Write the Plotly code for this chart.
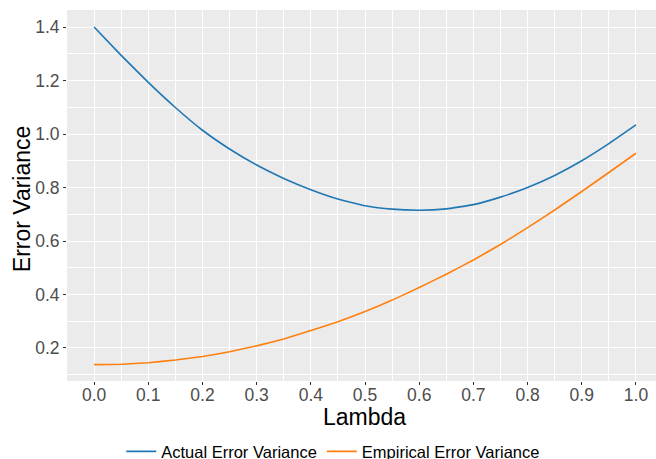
import plotly.graph_objects as go

# Shrinkage parameter grid
lambda_vals = [0.00, 0.05, 0.10, 0.15, 0.20, 0.25, 0.30, 0.35, 0.40, 0.45, 0.50,
               0.55, 0.60, 0.65, 0.70, 0.75, 0.80, 0.85, 0.90, 0.95, 1.00]

# Error variance curves
actual_var = [1.400, 1.294, 1.193, 1.099, 1.014, 0.944, 0.884, 0.834, 0.792, 0.757, 0.732,
              0.719, 0.715, 0.720, 0.736, 0.764, 0.800, 0.845, 0.900, 0.964, 1.034]
empirical_var = [0.138, 0.139, 0.145, 0.155, 0.168, 0.186, 0.208, 0.234, 0.265, 0.298, 0.336,
                 0.379, 0.426, 0.476, 0.529, 0.587, 0.650, 0.716, 0.785, 0.856, 0.928]

series_names = ["Actual Error Variance", "Empirical Error Variance"]
series_colors = ["#1f77b4", "#ff7f0e"]

x_ticks = [0.0, 0.1, 0.2, 0.3, 0.4, 0.5, 0.6, 0.7, 0.8, 0.9, 1.0]
y_ticks = [0.2, 0.4, 0.6, 0.8, 1.0, 1.2, 1.4]

fig = go.Figure()
for name, vals, col in zip(series_names, [actual_var, empirical_var], series_colors):
    fig.add_trace(go.Scatter(
        x=lambda_vals, y=vals, mode="lines", name=name,
        line=dict(color=col, width=1.6, shape="spline", smoothing=0.3),
    ))

font_family = "Liberation Sans, Arial, sans-serif"

axis_common = dict(
    showgrid=True, gridcolor="white", gridwidth=1.1,
    zeroline=False, showline=False, automargin=False,
    ticks="outside", ticklen=3, tickwidth=1, tickcolor="#333333",
    tickfont=dict(family=font_family, size=17.5, color="#4D4D4D"),
)

fig.update_layout(
    width=656, height=459,
    margin=dict(l=67, r=0, t=10, b=78),
    paper_bgcolor="white", plot_bgcolor="#EBEBEB",
    font=dict(family=font_family),
    xaxis=dict(
        **axis_common,
        range=[-0.05, 1.037],
        tickvals=x_ticks, ticktext=[f"{v:.1f}" for v in x_ticks],
        ticklabelstandoff=-5,
        minor=dict(dtick=0.05, tick0=0, showgrid=True, gridcolor="white", gridwidth=0.5),
    ),
    yaxis=dict(
        **axis_common,
        range=[0.0766, 1.4636],
        tickvals=y_ticks, ticktext=[f"{v:.1f}" for v in y_ticks],
        ticklabelstandoff=0,
        minor=dict(dtick=0.1, tick0=0.1, showgrid=True, gridcolor="white", gridwidth=0.5),
    ),
    legend=dict(
        orientation="h", x=0.508, xanchor="center", xref="container",
        y=0.016, yanchor="middle", yref="container",
        font=dict(family=font_family, size=16.5, color="black"),
        bgcolor="rgba(0,0,0,0)", itemwidth=30,
    ),
    showlegend=True,
)

# Axis titles
title_font = dict(family=font_family, size=23, color="black")
fig.add_annotation(text="Lambda", xref="paper", yref="paper", x=0.505, y=-0.096,
                   xanchor="center", yanchor="middle", showarrow=False, font=title_font)
fig.add_annotation(text="Error Variance", xref="paper", yref="paper", x=-0.0764, y=0.49,
                   xanchor="center", yanchor="middle", textangle=-90, showarrow=False,
                   font=title_font)

fig.write_html("out.html")
